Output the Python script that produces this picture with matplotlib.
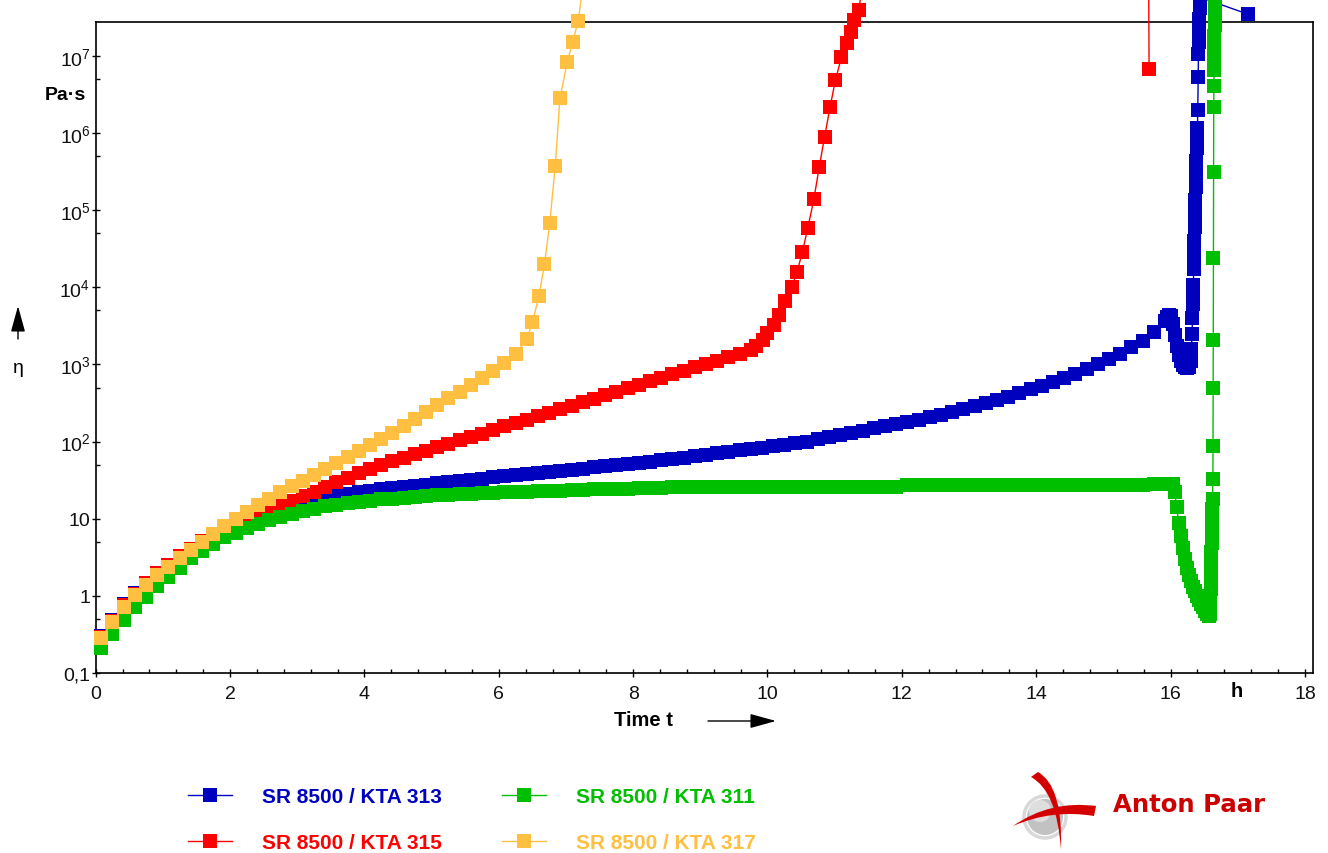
import numpy as np
import matplotlib
matplotlib.use("Agg")
import matplotlib.pyplot as plt
from matplotlib.lines import Line2D
from matplotlib.ticker import FixedLocator, MultipleLocator, FuncFormatter, NullFormatter
from matplotlib.patches import Circle, PathPatch, FancyArrowPatch
from matplotlib.path import Path

plt.rcParams['font.family'] = ['Liberation Sans', 'DejaVu Sans']
plt.rcParams['mathtext.fontset'] = 'custom'
plt.rcParams['mathtext.rm'] = 'Liberation Sans'
plt.rcParams['mathtext.it'] = 'Liberation Sans:italic'
plt.rcParams['mathtext.bf'] = 'Liberation Sans:bold'

# ---------------- data (time in h, viscosity in Pa·s) ----------------
# regular measuring points every 10 min, first at 5 min
T_GRID = np.arange(96) / 6 + 1 / 12

labels = ["SR 8500 / KTA 313", "SR 8500 / KTA 315", "SR 8500 / KTA 311", "SR 8500 / KTA 317"]
colors = ["#0000BF", "#FF0000", "#00BF00", "#FFBF40"]

eta_313_grid = [0.302, 0.490, 0.776, 1.10, 1.48, 1.95, 2.51, 3.24, 4.07, 5.01, 6.17, 7.41,
                8.71, 10.0, 11.2, 12.6, 13.8, 14.8, 15.8, 17.0, 18.2, 19.5, 20.9, 21.9,
                22.9, 24.0, 24.8, 25.7, 26.6, 27.5, 28.8, 29.9, 30.9, 32.0, 33.1, 34.3,
                35.5, 36.7, 38.0, 38.9, 40.3, 41.7, 43.2, 44.7, 46.2, 47.9, 49.5, 51.3,
                53.1, 55.0, 56.9, 58.9, 61.7, 64.6, 67.6, 70.8, 74.1, 76.7, 79.4, 83.2,
                87.1, 91.2, 95.5, 100, 107, 114, 120, 129, 138, 148, 158, 168,
                180, 193, 207, 224, 243, 263, 288, 316, 347, 380, 427, 473,
                525, 589, 661, 759, 871, 1020, 1170, 1380, 1660, 2040, 2630, 3630]
t_313_end = [15.95, 15.98, 16.01, 16.04, 16.07, 16.10, 16.13, 16.16, 16.19, 16.22, 16.25, 16.28,
             16.30, 16.31, 16.32, 16.325, 16.33, 16.335, 16.34, 16.345, 16.35, 16.355, 16.36,
             16.365, 16.37, 16.375, 16.38, 16.385, 16.39, 16.395, 16.40, 16.405, 16.41, 16.415,
             16.42, 16.425, 16.43, 16.435, 16.44, 17.15]
eta_313_end = [4170, 4370, 4270, 3310, 2400, 1740, 1320, 1100, 977, 912, 902, 933,
               1120, 1580, 2510, 3980, 6030, 8320, 1.07e4, 1.74e4, 2.63e4, 3.98e4, 6.03e4,
               8.91e4, 1.35e5, 2.0e5, 2.95e5, 4.27e5, 6.31e5, 8.91e5, 1.17e6, 2.0e6, 5.25e6, 1.07e7,
               1.51e7, 2.14e7, 3.02e7, 4.17e7, 5.75e7, 3.47e7]

eta_315_grid = [0.295, 0.479, 0.759, 1.07, 1.45, 1.95, 2.51, 3.24, 4.07, 5.13, 6.31, 7.76,
                9.33, 11.0, 12.6, 14.1, 15.5, 17.2, 19.5, 22.4, 25.7, 29.5, 33.9, 38.9,
                44.7, 50.1, 55.6, 61.7, 68.4, 75.9, 84.1, 93.3, 104, 115, 127, 141,
                157, 174, 193, 214, 237, 263, 292, 324, 359, 398, 442, 490,
                543, 603, 668, 741, 822, 912, 1010, 1120, 1240, 1380, 1530]
t_315_end = [9.83, 9.93, 10.00, 10.09, 10.17, 10.26, 10.36, 10.44, 10.52, 10.60, 10.69, 10.77,
             10.85, 10.93, 11.01, 11.10, 11.18, 11.24, 11.29, 11.36, 11.45, 11.55, 15.66, 15.68]
eta_315_end = [1740, 2090, 2570, 3240, 4370, 6610, 1.0e4, 1.58e4, 2.88e4, 5.89e4, 1.38e5, 3.63e5,
               8.91e5, 2.14e6, 4.79e6, 9.55e6, 1.48e7, 2.04e7, 2.88e7, 3.89e7, 1.6e8, 4.0e8, 3.2e10, 6.8e6]

eta_311_grid = [0.214, 0.316, 0.490, 0.708, 0.977, 1.35, 1.78, 2.29, 3.09, 3.80, 4.68, 5.75,
                6.61, 7.59, 8.51, 9.55, 10.5, 11.5, 12.6, 13.5, 14.5, 15.1, 15.8, 16.6,
                17.2, 17.8, 18.2, 18.6, 19.1, 19.5, 20.0, 20.4, 20.9, 21.1, 21.4, 21.6,
                21.9, 22.1, 22.4, 22.6, 22.9, 23.2, 23.4, 23.7, 24.0, 24.3, 24.5, 24.5,
                24.8, 25.1, 25.1, 25.4, 25.4, 25.7, 25.7, 25.7, 25.7, 26.0, 26.0, 26.0,
                26.0, 26.0, 26.0, 26.0, 26.0, 26.0, 26.0, 26.0, 26.0, 26.0, 26.0, 26.0,
                27.2, 27.2, 27.2, 27.2, 27.2, 27.2, 27.2, 27.2, 27.2, 27.2, 27.2, 27.2,
                27.2, 27.2, 27.2, 27.2, 27.2, 27.2, 27.2, 27.2, 27.2, 27.2, 27.9, 28.2]
t_311_end = [16.0, 16.03, 16.06, 16.09, 16.12, 16.15, 16.18, 16.21, 16.24, 16.27, 16.30, 16.33,
             16.36, 16.39, 16.42, 16.45, 16.48, 16.51, 16.54, 16.57, 16.585, 16.59, 16.593, 16.596,
             16.599, 16.602, 16.605, 16.608, 16.611, 16.614, 16.617, 16.62, 16.623, 16.626, 16.63,
             16.632, 16.634, 16.636, 16.638, 16.64, 16.642, 16.644, 16.646, 16.648, 16.65, 16.652,
             16.654, 16.656, 16.658, 16.66]
eta_311_end = [28.2, 28.2, 22.4, 14.1, 8.91, 6.03, 4.17, 3.02, 2.29, 1.86, 1.55, 1.32,
               1.15, 1.0, 0.891, 0.794, 0.708, 0.631, 0.575, 0.550, 0.575, 0.708, 0.933, 1.23,
               1.62, 2.14, 2.82, 3.72, 4.90, 6.46, 8.51, 11.0, 13.2, 17.8, 32.4,
               87.1, 501, 2090, 2.4e4, 3.09e5, 2.14e6, 4.07e6, 6.61e6, 9.55e6, 1.32e7, 1.82e7,
               2.51e7, 3.55e7, 5.01e7, 1.6e8]

eta_317_grid = [0.282, 0.457, 0.724, 1.02, 1.38, 1.86, 2.40, 3.09, 3.98, 5.01, 6.31, 7.94,
                9.77, 12.3, 15.1, 18.2, 21.9, 26.3, 30.9, 37.2, 44.2, 52.5, 63.1, 75.0,
                89.1, 107, 129, 158, 195, 240, 295, 363, 442, 537, 661, 832,
                1050, 1350, 2140]
t_317_end = [6.50, 6.60, 6.68, 6.76, 6.84, 6.91, 7.02, 7.10, 7.18, 7.27]
eta_317_end = [3500, 7800, 2.0e4, 6.9e4, 3.7e5, 2.8e6, 8.3e6, 1.5e7, 2.8e7, 1.0e8]

y_major = [0.1, 1, 10, 1e2, 1e3, 1e4, 1e5, 1e6, 1e7]
y_minor = [0.5, 5, 50, 5e2, 5e3, 5e4, 5e5, 5e6]

# ---------------- figure ----------------
W, H = 1328, 854
fig = plt.figure(figsize=(W / 100, H / 100), dpi=100)


def fx(px):
    return px / W


def fy(py):
    return 1 - py / H


L, R, T, B = 95.7, 1313, 23.3, 674
ax = fig.add_axes([fx(L), fy(B), (R - L) / W, (B - T) / H])

series = [
    (T_GRID[:len(eta_313_grid)], eta_313_grid, t_313_end, eta_313_end),
    (T_GRID[:len(eta_315_grid)], eta_315_grid, t_315_end, eta_315_end),
    (T_GRID[:len(eta_311_grid)], eta_311_grid, t_311_end, eta_311_end),
    (T_GRID[:len(eta_317_grid)], eta_317_grid, t_317_end, eta_317_end),
]
for i, (tg, eg, te, ee) in enumerate(series):
    t = np.concatenate([tg, te])
    e = np.concatenate([eg, ee])
    ax.plot(t, e, color=colors[i], lw=1.0, marker='s', ms=10.5, mew=0,
            clip_on=False, zorder=3 + i)

ax.set_yscale('log')
ax.set_xlim(0, 18.12)
ax.set_ylim(0.1, 2.72e7)

ax.xaxis.set_major_locator(MultipleLocator(2))
ax.xaxis.set_minor_locator(MultipleLocator(0.4))
ax.yaxis.set_major_locator(FixedLocator(y_major))
ax.yaxis.set_minor_locator(FixedLocator(y_minor))
ax.yaxis.set_minor_formatter(NullFormatter())


def yfmt(v, pos):
    if v < 0.5:
        return "0,1"
    if v < 5:
        return "1"
    if v < 50:
        return "10"
    k = int(round(np.log10(v)))
    return r"$10^{%d}$" % k


ax.yaxis.set_major_formatter(FuncFormatter(yfmt))
ax.xaxis.set_major_formatter(FuncFormatter(lambda v, p: "%d" % round(v)))

ax.tick_params(which='major', direction='inout', length=6, width=1.0, labelsize=14,
               color='black', labelcolor='#111111')
ax.tick_params(axis='x', which='major', pad=5.8)
ax.tick_params(axis='y', which='major', pad=0.8)
ax.tick_params(which='minor', direction='in', length=2.6, width=1.0)
for s in ax.spines.values():
    s.set_linewidth(1.2)
ax.patch.set_alpha(0)

# axis annotations
fig.text(fx(65.5), fy(95), "Pa·s", ha='center', va='center', weight='bold', size=14)
fig.text(fx(18), fy(369), "η", ha='center', va='center', size=14)
fig.text(fx(643), fy(721), "Time t", ha='center', va='center', weight='bold', size=14.5)
fig.text(fx(1237), fy(692), "h", ha='center', va='center', weight='bold', size=14.5)
arrow_kw = dict(arrowstyle="-|>,head_length=0.8,head_width=0.22", lw=1.0, color='black',
                mutation_scale=20, shrinkA=0, shrinkB=0)
fig.add_artist(FancyArrowPatch((fx(708), fy(722)), (fx(776), fy(722)),
                               transform=fig.transFigure, **arrow_kw))
fig.add_artist(FancyArrowPatch((fx(18), fy(340)), (fx(18), fy(307)),
                               transform=fig.transFigure, **arrow_kw))

# legend
handles = [Line2D([], [], color=c, lw=1.0, marker='s', ms=10, mew=0) for c in colors]
leg = fig.legend(handles, labels, loc='upper left', bbox_to_anchor=(fx(188), fy(788)),
                 ncol=2, frameon=False, prop={'weight': 'bold', 'size': 15},
                 handlelength=2.1, handletextpad=1.45, columnspacing=2.9, labelspacing=1.32,
                 borderaxespad=0, borderpad=0, numpoints=1)
for txt, c in zip(leg.get_texts(), colors):
    txt.set_color(c)

# Anton Paar logo
lax = fig.add_axes([fx(1000), fy(854), 110 / W, 89 / H])
lax.set_xlim(1000, 1110)
lax.set_ylim(854, 765)
lax.axis('off')
lax.add_patch(Circle((1045, 818), 21, fc='none', ec='#D8D8D8', lw=2.5))
lax.add_patch(Circle((1045, 818), 18, fc='#C2C2C2', ec='none'))
lax.add_patch(Circle((1040, 812), 11, fc='#DEDEDE', ec='none'))
swoosh1 = Path([(1013, 827), (1050, 801), (1096, 807), (1094, 817), (1052, 810), (1013, 827)],
               [Path.MOVETO, Path.CURVE3, Path.CURVE3, Path.LINETO, Path.CURVE3, Path.CURVE3])
lax.add_patch(PathPatch(swoosh1, fc='#D40000', ec='none'))
swoosh2 = Path([(1031, 778), (1057, 792), (1061, 851), (1063, 787), (1038, 773), (1031, 778)],
               [Path.MOVETO, Path.CURVE3, Path.CURVE3, Path.CURVE3, Path.CURVE3, Path.LINETO])
lax.add_patch(PathPatch(swoosh2, fc='#D40000', ec='none'))
fig.text(fx(1189), fy(805), "Anton Paar", ha='center', va='center', weight='bold',
         size=17.6, color='#CC0000', family='DejaVu Sans')

fig.savefig("out.png", dpi=100)
